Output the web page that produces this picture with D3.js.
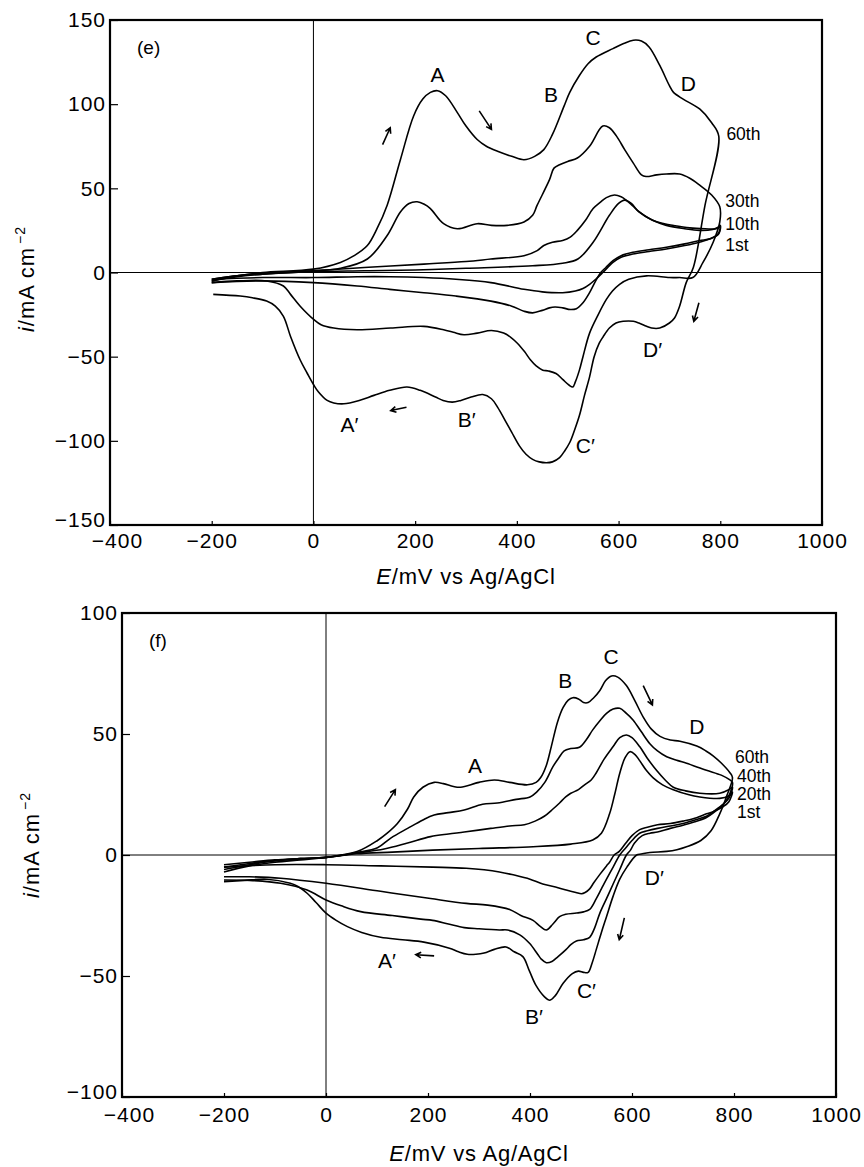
<!DOCTYPE html>
<html>
<head>
<meta charset="utf-8">
<script src="https://cdn.jsdelivr.net/npm/d3@7"></script>
<style>
  body { margin: 0; background: #fff; }
  svg { display: block; }
  text { font-family: "Liberation Sans", Arial, sans-serif; fill: #000; }
</style>
</head>
<body>
<div id="chart"></div>
<script>
// axis ticks
const xTicks = [-400, -200, 0, 200, 400, 600, 800, 1000];
const yTicksE = [-150, -100, -50, 0, 50, 100, 150];
const yTicksF = [-100, -50, 0, 50, 100];

// panel (e): each cycle = anodic sweep (-200 -> 800) then cathodic sweep back, [E mV, i mA cm-2]
const e1st = [[-200,-4],[-150,-2],[-100,-1],[0,0.5],[100,1],[200,1.5],[300,2.5],[431,4],[490,5.5],[520,8],[550,18],[582,34],[600,41],[612,43],[625,41],[640,36],[667,31],[694,28],[730,26],[759,25],[785,25.5],[799,27],
  [796,23],[780,20],[759,18],[730,16],[694,14],[660,12.5],[628,11],[605,9],[589,6],[569,0],[555,-4],[543,-7],[530,-9.5],[515,-11],[490,-12],[450,-11.5],[414,-10],[349,-6],[280,-4],[217,-3],[150,-2.5],[86,-2.5],[0,-3],[-100,-3],[-200,-4]];
const e10th = [[-200,-5],[-150,-2.5],[-100,-1],[0,1],[100,3],[217,5],[300,6.5],[349,8],[414,10],[440,13],[453,16],[470,18],[490,19],[505,21],[519,25],[535,31],[550,38],[565,42],[576,44.5],[592,46],[605,45],[615,43],[628,39.5],[641,36],[667,31],[690,29],[707,28],[740,26.5],[770,26],[792,26],[800,28],
  [797,23],[780,20],[759,19],[730,17],[694,15],[660,13.5],[628,12],[605,10],[589,7],[575,3],[565,0],[555,-5],[543,-12],[530,-18],[517,-21.5],[505,-22],[490,-21],[475,-20.5],[464,-21],[450,-22.5],[431,-24],[414,-23],[390,-20],[349,-17],[280,-14],[217,-12],[150,-10],[86,-8],[0,-6],[-100,-5],[-200,-6]];
const e30th = [[-200,-4],[-150,-2],[-100,-0.5],[0,1],[53,2.5],[106,8],[145,22],[171,36],[188,41],[204,42],[218,40.5],[230,38],[256,29],[283,26],[322,29],[350,28],[381,28],[414,30],[431,34],[440,40],[464,55],[473,62],[484,64],[500,66],[519,68],[543,75],[569,87],[582,86],[596,81],[612,73],[629,65],[645,58],[654,57],[675,58],[694,58.5],[720,58.5],[740,56],[759,52],[783,46],[799,39],
  [799,30],[786,18],[766,6],[746,-3],[720,-3],[700,-3],[655,-2],[620,-4],[602,-7],[588,-11],[576,-16],[560,-25],[543,-36],[530,-50],[523,-58],[515,-65],[510,-68],[503,-67],[490,-63.5],[477,-60],[462,-58.5],[451,-58],[438,-55.5],[427,-52],[415,-47],[401,-42],[388,-38.5],[374,-36],[350,-34.5],[322,-36],[296,-37],[275,-35.5],[256,-34],[217,-32],[152,-33],[86,-34],[40,-33],[15,-31],[1,-28],[-26,-20],[-45,-13],[-59,-8],[-92,-5],[-150,-5],[-200,-6]];
const e60th = [[-200,-5],[-150,-2],[-100,0],[0,2],[53,6],[80,10],[106,16],[125,26],[145,40],[171,67],[197,93],[215,103],[230,107],[244,108],[260,105],[283,95],[300,87],[322,79],[340,75],[362,72],[390,69],[414,67],[435,69],[453,73],[470,82],[493,99],[504,107],[523,117],[540,124],[556,128],[589,133],[610,136],[629,138],[645,137.5],[660,134],[681,123],[700,111],[708,107],[727,103],[760,97],[783,89],[797,81],
  [770,40],[747,3],[733,-6],[720,-20],[710,-27],[700,-30],[681,-33],[665,-33],[655,-32],[640,-30],[629,-29],[609,-29],[595,-30],[582,-33],[570,-38],[562,-42],[552,-50],[543,-62],[533,-73],[523,-85],[513,-94],[504,-101],[494,-106],[484,-110],[470,-112.5],[458,-113],[444,-112.5],[431,-111],[418,-108],[405,-103],[390,-95],[379,-89],[362,-80],[350,-75],[333,-72.5],[310,-74],[290,-76],[273,-77],[255,-76],[240,-74],[210,-70],[184,-68],[150,-70],[119,-73],[90,-76],[60,-78],[40,-77.5],[27,-76],[10,-71],[1,-67],[-12,-60],[-26,-52],[-45,-38],[-59,-26],[-75,-20],[-92,-17],[-120,-15],[-144,-14],[-197,-13]];

// panel (f)
const f1st = [[-200,-4],[-150,-3],[-100,-2],[-50,-1.5],[0,-1],[60,0.5],[130,1.2],[209,2],[300,2.7],[406,3.4],[480,4.5],[523,6.2],[540,9],[556,17],[566,25],[576,33.8],[586,40],[596,42.7],[606,41.5],[615,39],[628,35],[641,32],[660,29],[681,27],[710,25],[733,24],[772,23.4],[790,24.5],[797,26],
  [790,22],[779,20],[760,18],[746,17],[720,15],[700,14],[675,13],[650,12.5],[630,11.5],[615,10.5],[600,8],[588,5],[575,1.5],[565,0],[556,-3],[550,-4.5],[537,-8],[525,-11.5],[517,-14],[508,-15.5],[501,-16],[490,-15.5],[471,-14.5],[450,-13.2],[425,-12],[400,-10],[369,-8.3],[340,-7],[275,-5.5],[209,-5],[107,-4.5],[0,-4],[-100,-4],[-200,-5]];
const f20th = [[-200,-5],[-150,-3.5],[-100,-2.3],[-50,-1.5],[0,-1],[60,0.8],[114,2.5],[160,5],[205,7.6],[240,8.7],[271,9.5],[323,11],[360,12],[389,12.5],[410,14],[428,16],[445,19],[458,21.5],[470,24],[480,25.5],[495,27],[507,29],[520,31],[530,34],[545,39.5],[563,44.8],[576,48.5],[589,49.6],[600,48.5],[615,44.8],[630,40],[648,35],[665,31],[681,28],[705,26.5],[733,25.5],[772,25.5],[790,27],[797,28],
  [790,23.5],[779,21],[760,18],[746,16],[720,14.3],[700,13],[675,12],[650,11],[630,10],[615,9],[600,6],[588,3],[576,0],[563,-5],[550,-10],[540,-14],[530,-18],[517,-22.5],[505,-23.5],[491,-24],[470,-24.5],[458,-25.5],[445,-28.5],[432,-31],[420,-29.5],[406,-27],[382,-25],[360,-22.5],[317,-20.7],[275,-20],[205,-18],[107,-15],[0,-11.7],[-89,-9.6],[-150,-9],[-200,-9]];
const f40th = [[-200,-6],[-150,-4],[-100,-2.5],[-50,-1.5],[0,-1],[60,1],[101,3],[127,7],[160,11],[190,14.5],[212,16.5],[240,17.5],[271,18.6],[307,21],[336,21.5],[373,23],[400,24],[413,26],[429,30],[445,36.5],[456,40],[467,43],[480,44],[497,44.5],[510,47.5],[523,51.7],[537,55.5],[550,58.5],[563,60.3],[576,60.6],[589,58.5],[602,55.8],[618,51],[635,46],[650,43],[668,40.6],[690,39],[707,37.9],[746,35],[775,33],[792,31],[797,30],
  [790,24.5],[779,21],[760,17.5],[746,15.5],[720,13.5],[700,12.3],[675,11],[650,9.5],[635,9],[620,8],[605,5],[597,2],[589,0],[576,-6],[563,-12],[550,-18],[537,-24],[527,-30],[517,-34],[505,-35],[491,-35.5],[480,-37],[471,-39],[455,-42],[443,-44],[432,-44.5],[422,-43],[415,-41],[399,-36.5],[380,-33],[356,-31],[340,-31],[300,-30.5],[271,-30],[240,-28.5],[209,-27],[186,-26.5],[130,-25],[68,-23.4],[30,-21],[0,-18.6],[-37,-14.5],[-89,-11.7],[-150,-10.5],[-200,-10.3]];
const f60th = [[-200,-7],[-150,-4.5],[-100,-3],[-50,-2],[0,-1],[61,1.4],[101,6],[120,9],[140,13],[160,19],[172,24],[190,28],[212,30],[230,29.5],[250,28.3],[264,28],[300,30],[330,31],[360,30],[395,29],[412,30],[421,32],[432,37],[442,45],[454,55],[465,61],[475,64],[484,65],[495,64.5],[505,63],[514,63],[525,65],[537,68],[548,72],[560,74],[572,73.5],[589,70],[605,64],[622,57],[638,52],[655,49],[675,47.5],[694,47],[727,45],[745,43],[759,41],[775,38],[792,34],[797,32],
  [785,24],[772,17],[755,10],[735,6],[707,3.4],[688,2.2],[668,1.5],[635,1],[618,0.4],[609,0],[590,-5],[576,-10],[563,-17],[550,-25.5],[540,-32],[530,-39],[522,-44.5],[514,-48.5],[505,-48.5],[495,-48],[483,-49],[465,-53],[450,-58],[439,-60],[428,-58.5],[412,-54],[399,-48],[386,-42],[369,-40],[353,-38],[330,-39],[310,-40.5],[294,-41],[277,-41],[260,-40],[242,-38.5],[192,-36],[150,-35],[107,-34],[70,-32],[42,-29.6],[20,-27],[0,-24],[-20,-19.5],[-37,-15.8],[-55,-13],[-70,-11.7],[-116,-10],[-160,-10.5],[-200,-11]];

// peak letters and cycle names, placed in data units
const peakNamesE = ["A", "B", "C", "D", "A′", "B′", "C′", "D′"];
const peakAtE = [[244,113],[467,101],[550,135],[737,108],[53,-95],[284,-92],[516,-107],[648,-50]];
const cycleNamesE = ["60th", "30th", "10th", "1st"];
const cycleAtE = [[812,79],[810,39],[810,25],[810,13]];
const arrowsE = [[[136,76],[151,86]],[[326,96],[350,85]],[[183,-80],[152,-82]],[[758,-18],[748,-29]]];

const peakNamesF = ["A", "B", "C", "D", "A′", "B′", "C′", "D′"];
const peakAtF = [[292,34],[469,69],[559,79],[727,50],[102,-46.7],[390,-70],[492,-59],[625,-12.4]];
const cycleNamesF = ["60th", "40th", "20th", "1st"];
const cycleAtF = [[802,38],[806,30],[806,22.7],[806,15.3]];
const arrowsF = [[[115,20],[136,27]],[[622,70],[640,62]],[[212,-41.7],[176,-41.2]],[[585,-26],[575,-35]]];

const W = 864, H = 1167;
const svg = d3.select("#chart").append("svg").attr("width", W).attr("height", H);

const fmt = d => (d < 0 ? "−" : "") + Math.abs(d);

function drawPanel(p) {
    const x = d3.scaleLinear().domain([-400, 1000]).range([p.left, p.right]);
    const y = d3.scaleLinear().domain(p.yDomain).range([p.bottom, p.top]);
    const g = svg.append("g");

    // inner zero lines
    g.append("line").attr("x1", x(0)).attr("x2", x(0)).attr("y1", p.top).attr("y2", p.bottom)
        .attr("stroke", "#000").attr("stroke-width", 1);
    g.append("line").attr("x1", p.left).attr("x2", p.right).attr("y1", y(0)).attr("y2", y(0))
        .attr("stroke", "#000").attr("stroke-width", 1);

    // axes, ticks pointing in
    const ya = g.append("g").attr("transform", `translate(${p.left},0)`)
        .call(d3.axisLeft(y).tickValues(p.yTicks).tickFormat(fmt).tickSize(-8).tickPadding(4));
    const xa = g.append("g").attr("transform", `translate(0,${p.bottom})`)
        .call(d3.axisBottom(x).tickValues(xTicks).tickFormat(fmt).tickSize(-4).tickPadding(p.xPad));
    [ya, xa].forEach(a => {
        a.select(".domain").remove();
        a.selectAll("line").attr("stroke-width", 1.2);
        a.selectAll("text").attr("font-family", "Liberation Sans, Arial, sans-serif")
            .attr("font-size", 21).attr("letter-spacing", 1);
    });
    // corner labels sit tight in the reference, nudge them apart
    ya.selectAll(".tick text").filter(d => d === p.yDomain[0]).attr("y", -5);
    xa.selectAll(".tick text").filter(d => d === -400).attr("x", 7);

    // frame
    g.append("rect").attr("x", p.left).attr("y", p.top)
        .attr("width", p.right - p.left).attr("height", p.bottom - p.top)
        .attr("fill", "none").attr("stroke", "#000").attr("stroke-width", 2.2);

    // voltammograms
    const line = d3.line().x(d => x(d[0])).y(d => y(d[1])).curve(d3.curveCatmullRom.alpha(0.5));
    p.cycles.forEach(c => {
        g.append("path").attr("d", line(c)).attr("fill", "none")
            .attr("stroke", "#000").attr("stroke-width", 1.6).attr("stroke-linejoin", "round");
    });

    // labels
    p.peakNames.forEach((t, k) => {
        const isPrime = t.length > 1;
        g.append("text").attr("x", x(p.peakAt[k][0])).attr("y", y(p.peakAt[k][1]))
            .attr("text-anchor", isPrime ? "start" : "middle")
            .attr("font-size", 21).text(t);
    });
    p.cycleNames.forEach((t, k) => {
        g.append("text").attr("x", x(p.cycleAt[k][0])).attr("y", y(p.cycleAt[k][1]))
            .attr("font-size", 17.5).text(t);
    });
    g.append("text").attr("x", p.left + 27).attr("y", p.top + 34).attr("font-size", 19).text(p.tag);

    // arrows
    p.arrows.forEach(a => {
        const x1 = x(a[0][0]), y1 = y(a[0][1]), x2 = x(a[1][0]), y2 = y(a[1][1]);
        const ang = Math.atan2(y2 - y1, x2 - x1);
        const h = 6;
        const hx1 = x2 - h * Math.cos(ang - 0.5), hy1 = y2 - h * Math.sin(ang - 0.5);
        const hx2 = x2 - h * Math.cos(ang + 0.5), hy2 = y2 - h * Math.sin(ang + 0.5);
        g.append("path")
            .attr("d", `M${x1},${y1}L${x2},${y2}M${hx1},${hy1}L${x2},${y2}L${hx2},${hy2}`)
            .attr("fill", "none").attr("stroke", "#000").attr("stroke-width", 1.6);
    });

    // axis titles
    const xt = g.append("text").attr("x", (p.left + p.right) / 2).attr("y", p.xTitleY)
        .attr("text-anchor", "middle").attr("font-size", 22).attr("letter-spacing", 0.8);
    xt.append("tspan").attr("font-style", "italic").text("E");
    xt.append("tspan").text("/mV vs Ag/AgCl");

    const yt = g.append("text").attr("transform", `translate(${p.yTitleX},${p.yTitleMid}) rotate(-90)`)
        .attr("text-anchor", "middle").attr("font-size", 22).attr("letter-spacing", 1);
    yt.append("tspan").attr("font-style", "italic").text("i");
    yt.append("tspan").text("/mA cm");
    yt.append("tspan").attr("dx", 3).attr("dy", -9).attr("font-size", 14).text("−2");
}

drawPanel({
    left: 110, right: 822, top: 20, bottom: 525, yDomain: [-150, 150], yTicks: yTicksE,
    xPad: 8, xTitleY: 584, yTitleX: 34, yTitleMid: 279, tag: "(e)",
    cycles: [e1st, e10th, e30th, e60th],
    peakNames: peakNamesE, peakAt: peakAtE, cycleNames: cycleNamesE, cycleAt: cycleAtE, arrows: arrowsE
});

drawPanel({
    left: 122, right: 836, top: 613, bottom: 1097, yDomain: [-100, 100], yTicks: yTicksF,
    xPad: 10, xTitleY: 1161, yTitleX: 39, yTitleMid: 845, tag: "(f)",
    cycles: [f1st, f20th, f40th, f60th],
    peakNames: peakNamesF, peakAt: peakAtF, cycleNames: cycleNamesF, cycleAt: cycleAtF, arrows: arrowsF
});
</script>
</body>
</html>
